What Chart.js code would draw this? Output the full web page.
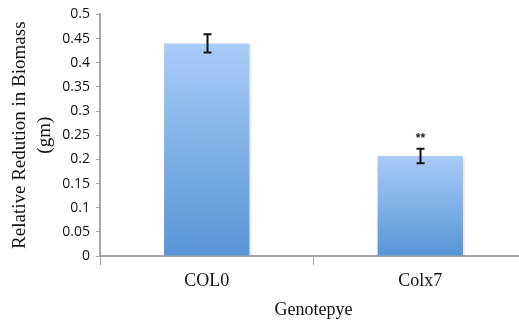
<!DOCTYPE html>
<html>
<head>
<meta charset="utf-8">
<script src="https://cdn.jsdelivr.net/npm/chart.js@4.4.1/dist/chart.umd.min.js"></script>
<style>
  html, body { margin: 0; padding: 0; background: #fff; overflow: hidden; }
  #wrap { width: 527px; height: 326px; }
</style>
</head>
<body>
<div id="wrap"><canvas id="biomasa" width="527" height="326"></canvas></div>
<script>
// genotipos y reducción relativa de biomasa
var genotipos = ["COL0", "Colx7"];
var reduccion = [0.44, 0.207];
var errores = [0.019, 0.015];
var marcas = ["", "**"];
var ticksY = [0, 0.05, 0.1, 0.15, 0.2, 0.25, 0.3, 0.35, 0.4, 0.45, 0.5];

var gris = "#a6a6a6";

// barras de error y asteriscos de significancia
var barrasError = {
    id: "barrasError",
    afterDatasetsDraw: function (chart) {
        var ctx = chart.ctx;
        var y = chart.scales.y;
        var meta = chart.getDatasetMeta(0);
        ctx.save();
        ctx.strokeStyle = "#111";
        ctx.lineWidth = 2;
        meta.data.forEach(function (bar, i) {
            var x = Math.round(bar.x) + 0.5;
            var arriba = y.getPixelForValue(reduccion[i] + errores[i]);
            var abajo = y.getPixelForValue(reduccion[i] - errores[i]);
            ctx.beginPath();
            ctx.moveTo(x, arriba);
            ctx.lineTo(x, abajo);
            ctx.moveTo(x - 4, arriba);
            ctx.lineTo(x + 4, arriba);
            ctx.moveTo(x - 4, abajo);
            ctx.lineTo(x + 4, abajo);
            ctx.stroke();
            if (marcas[i]) {
                ctx.fillStyle = "#222";
                ctx.font = "bold 12px 'Liberation Sans'";
                ctx.textAlign = "center";
                ctx.textBaseline = "middle";
                ctx.fillText(marcas[i], x, arriba - 10);
            }
        });
        ctx.restore();
    }
};

// sombra suave a la derecha de cada barra
var sombra = {
    id: "sombra",
    beforeDatasetsDraw: function (chart) {
        var ctx = chart.ctx;
        chart.getDatasetMeta(0).data.forEach(function (bar) {
            var der = bar.x + bar.width / 2;
            ctx.fillStyle = "rgba(0,0,0,0.08)";
            ctx.fillRect(der, bar.y + 2, 2, bar.base - bar.y - 2);
        });
    }
};

function degradado(context) {
    var chart = context.chart;
    if (!chart.chartArea) return "#7fb0ea";
    var y = chart.scales.y;
    var v = context.raw;
    var g = chart.ctx.createLinearGradient(0, y.getPixelForValue(v), 0, y.getPixelForValue(0));
    g.addColorStop(0, "#a9cbf8");
    g.addColorStop(1, "#5795d6");
    return g;
}

new Chart(document.getElementById("biomasa").getContext("2d"), {
    type: "bar",
    data: {
        labels: genotipos,
        datasets: [{
            data: reduccion,
            backgroundColor: degradado,
            borderWidth: 0,
            barPercentage: 0.4,
            categoryPercentage: 1
        }]
    },
    options: {
        responsive: false,
        devicePixelRatio: 1,
        animation: false,
        layout: { padding: { top: 14, right: 0, bottom: 0, left: 0 } },
        plugins: {
            legend: { display: false },
            tooltip: { enabled: false }
        },
        scales: {
            x: {
                grid: {
                    drawOnChartArea: false,
                    drawTicks: true,
                    tickLength: 9,
                    color: gris,
                    lineWidth: 1
                },
                border: { display: true, color: gris, width: 2 },
                ticks: {
                    color: "#111",
                    padding: 5,
                    font: { family: "Liberation Serif", size: 18 }
                },
                title: {
                    display: true,
                    text: "Genotepye",
                    color: "#111",
                    padding: { top: 0, bottom: 5 },
                    font: { family: "Liberation Serif", size: 18 }
                },
                afterFit: function (s) { s.height = 70; }
            },
            y: {
                min: 0,
                max: 0.5,
                afterBuildTicks: function (s) {
                    s.ticks = ticksY.map(function (v) { return { value: v }; });
                },
                grid: {
                    drawOnChartArea: false,
                    drawTicks: true,
                    tickLength: 4,
                    color: gris
                },
                border: { display: true, color: gris, width: 2 },
                ticks: {
                    color: "#111",
                    padding: 6,
                    font: { family: "Open Sans", size: 14 },
                    callback: function (v) { return String(v); }
                },
                title: {
                    display: true,
                    text: ["Relative Redution in Biomass", "(gm)"],
                    color: "#111",
                    padding: { top: 8, bottom: 0 },
                    font: { family: "Liberation Serif", size: 19, lineHeight: 1.3 }
                },
                afterFit: function (s) { s.width = 100; }
            }
        }
    },
    plugins: [sombra, barrasError]
});
</script>
</body>
</html>
